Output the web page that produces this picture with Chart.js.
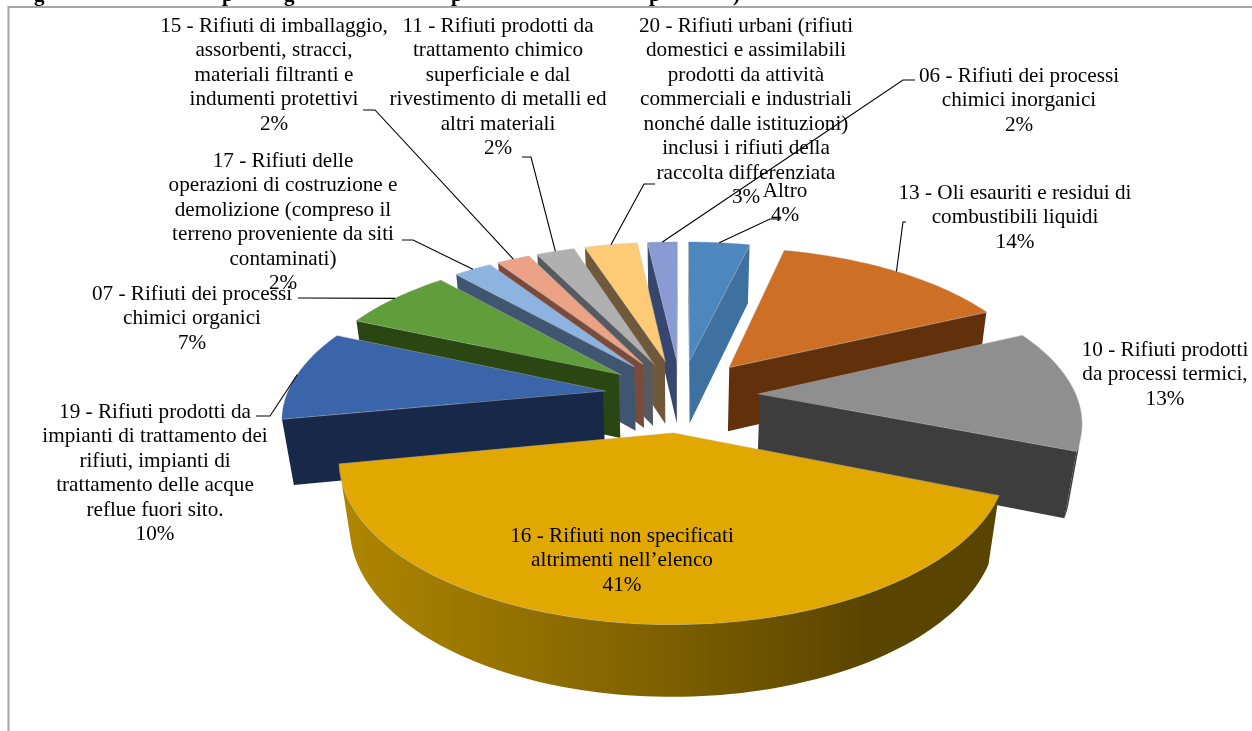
<!DOCTYPE html>
<html lang="it">
<head>
<meta charset="utf-8">
<title>Rifiuti</title>
<script src="https://cdn.jsdelivr.net/npm/chart.js@4"></script>
<style>
  html, body { margin: 0; padding: 0; background: #fff; }
  canvas { display: block; }
</style>
</head>
<body>
<canvas id="torta" width="1252" height="731"></canvas>
<script>
// dati
const categorie = ['Altro', '13', '10', '16', '19', '07', '17', '15', '11', '20', '06'];
const valori = [3.7, 14.3, 13, 41, 9.6, 6.8, 2.3, 2.0, 2.3, 3.2, 1.8];

const testi = [
  ['Altro'],
  ['13 - Oli esauriti e residui di', 'combustibili liquidi'],
  ['10 - Rifiuti prodotti', 'da processi termici,'],
  ['16 - Rifiuti non specificati', 'altrimenti nell\u2019elenco'],
  ['19 - Rifiuti prodotti da', 'impianti di trattamento dei', 'rifiuti, impianti di', 'trattamento delle acque', 'reflue fuori sito.'],
  ['07 - Rifiuti dei processi', 'chimici organici'],
  ['17 - Rifiuti delle', 'operazioni di costruzione e', 'demolizione (compreso il', 'terreno proveniente da siti', 'contaminati)'],
  ['15 - Rifiuti di imballaggio,', 'assorbenti, stracci,', 'materiali filtranti e', 'indumenti protettivi'],
  ['11 - Rifiuti prodotti da', 'trattamento chimico', 'superficiale e dal', 'rivestimento di metalli ed', 'altri materiali'],
  ['20 - Rifiuti urbani (rifiuti', 'domestici e assimilabili', 'prodotti da attivit\u00e0', 'commerciali e industriali', 'nonch\u00e9 dalle istituzioni)', 'inclusi i rifiuti della', 'raccolta differenziata'],
  ['06 - Rifiuti dei processi', 'chimici inorganici']
];

const coloriTop = ['#4E86BE', '#CE6F26', '#8F8F8F', '#E0A800', '#3A65AB', '#5F9E3A', '#8DB4E0', '#EBA285', '#B0B0B0', '#FDCB75', '#8A9BD3'];
const coloriParete = ['#3E71A0', '#63300C', '#3D3D3D', '#7C5F00', '#172849', '#2A4713', '#3F5570', '#7A4A3C', '#555B60', '#70583A', '#37466F'];

// posizione etichette: centro x, y della prima riga
const posTesti = [
  [785, 191], [1015, 193], [1165, 350], [622, 536], [155, 412], [192, 294],
  [283, 161], [274, 26], [498, 26], [746, 26], [1019, 76]
];
// inizio linea guida: [x1, y1, x2, y2] poi va verso la fetta
const guide = [
  [781, 219, 770, 219], [906, 222, 903, 222], null, null, [256, 416, 270, 416], [298, 298, 300, 298],
  [402, 240, 413, 240], [363, 110, 375, 110], [522, 157, 531, 157], [655, 184, 644, 184], [915, 80, 903, 80]
];

// pezzi del titolo tagliato in alto (si vedono solo le parti basse)
const titoloPezzi = [['g', 34], ['p', 222], ['g', 284], ['p', 451], ['p', 649], [')', 733]];

// parametri della vista 3D
const CX = 681, CY = 395, A = 316, B = 147, K = 0.16, D = 67, M = 0.03, ESPLOSO = 0.25;
const RIGA = 24.5;

function proj(u, v, z) {
  const w = 1 - K * v + M * z;
  return { x: CX + A * u / w, y: CY + (B * v + D * z) / w };
}

// punti del bordo di una fetta nel piano della torta, presi dall'arco di Chart.js
function bordoFetta(arco) {
  const mid = (arco.startAngle + arco.endAngle) / 2;
  const ex = Math.cos(mid) * ESPLOSO, ey = Math.sin(mid) * ESPLOSO;
  const punti = [[ex, ey]];
  const passi = Math.max(6, Math.ceil((arco.endAngle - arco.startAngle) * 40));
  for (let i = 0; i <= passi; i++) {
    const a = arco.startAngle + (arco.endAngle - arco.startAngle) * i / passi;
    punti.push([ex + Math.cos(a), ey + Math.sin(a)]);
  }
  return punti;
}

function puntoGuida(arco) {
  const mid = (arco.startAngle + arco.endAngle) / 2;
  return proj(Math.cos(mid) * (1 + ESPLOSO), Math.sin(mid) * (1 + ESPLOSO), 0);
}

function areaSegno(q) {
  let area = 0;
  q.forEach((p, j) => {
    const r = q[(j + 1) % q.length];
    area += p.x * r.y - r.x * p.y;
  });
  return area;
}

function tracciaPoli(ctx, q) {
  ctx.beginPath();
  q.forEach((p, j) => j ? ctx.lineTo(p.x, p.y) : ctx.moveTo(p.x, p.y));
  ctx.closePath();
}

function riempiPoli(ctx, q, colore) {
  tracciaPoli(ctx, q);
  ctx.fillStyle = colore;
  ctx.fill();
}

const torta3d = {
  id: 'torta3d',
  beforeDatasetsDraw(chart) {
    const ctx = chart.ctx;
    const archi = chart.getDatasetMeta(0).data;
    // dal fondo verso chi guarda
    const ordine = archi.map((a, i) => i).sort((p, q) => {
      const mp = (archi[p].startAngle + archi[p].endAngle) / 2;
      const mq = (archi[q].startAngle + archi[q].endAngle) / 2;
      return Math.sin(mp) - Math.sin(mq);
    });
    ordine.forEach(i => {
      const punti = bordoFetta(archi[i]);
      const su = punti.map(p => proj(p[0], p[1], 0));
      const giu = punti.map(p => proj(p[0], p[1], 1));
      const ultimo = su.length - 1;

      // pareti dei tagli
      [[0, 1], [ultimo, 0]].forEach(([a, b]) => {
        const q = [su[a], su[b], giu[b], giu[a]];
        if (areaSegno(q) < 0) riempiPoli(ctx, q, coloriParete[i]);
      });

      // parete esterna: un solo poligono per evitare righe fra i pezzi
      const fronte = [];
      for (let k = 1; k < ultimo; k++) {
        if (areaSegno([su[k], su[k + 1], giu[k + 1], giu[k]]) < 0) fronte.push(k, k + 1);
      }
      if (fronte.length) {
        const da = Math.min(...fronte), a = Math.max(...fronte);
        const poli = su.slice(da, a + 1).concat(giu.slice(da, a + 1).reverse());
        let riempi = coloriParete[i];
        if (categorie[i] === '16') {
          const g = ctx.createLinearGradient(su[ultimo].x, 0, su[1].x, 0);
          g.addColorStop(0, '#B08600');
          g.addColorStop(0.5, '#7C5F00');
          g.addColorStop(0.8, '#5A4500');
          g.addColorStop(1, '#5A4500');
          riempi = g;
        }
        riempiPoli(ctx, poli, riempi);
      }

      // bordino chiaro sotto la faccia superiore, come nell'originale
      tracciaPoli(ctx, su);
      ctx.strokeStyle = 'rgba(190,190,190,0.6)';
      ctx.lineWidth = 1.2;
      ctx.stroke();
      riempiPoli(ctx, su, coloriTop[i]);
    });
    return false;
  },
  afterDraw(chart) {
    const ctx = chart.ctx;
    const archi = chart.getDatasetMeta(0).data;
    const totale = valori.reduce((s, v) => s + v, 0);

    // linee guida
    ctx.strokeStyle = '#000';
    ctx.lineWidth = 1.1;
    guide.forEach((g, i) => {
      if (!g) return;
      const fine = puntoGuida(archi[i]);
      ctx.beginPath();
      ctx.moveTo(g[0], g[1]);
      ctx.lineTo(g[2], g[3]);
      ctx.lineTo(fine.x, fine.y);
      ctx.stroke();
    });

    // etichette
    ctx.fillStyle = '#000';
    ctx.font = '21.2px "Liberation Serif"';
    ctx.textAlign = 'center';
    ctx.textBaseline = 'middle';
    testi.forEach((righe, i) => {
      const [x, y] = posTesti[i];
      const tutte = righe.concat(Math.round(valori[i] / totale * 100) + '%');
      tutte.forEach((r, j) => ctx.fillText(r, x, y + j * RIGA));
    });

    // titolo: tagliato dal bordo della pagina
    ctx.font = 'bold 21px "Liberation Serif"';
    ctx.textAlign = 'left';
    ctx.textBaseline = 'alphabetic';
    titoloPezzi.forEach(([t, x]) => ctx.fillText(t, x, 1));

    // cornice
    ctx.strokeStyle = '#A6A6A6';
    ctx.lineWidth = 2;
    ctx.beginPath();
    ctx.moveTo(8.5, 731);
    ctx.lineTo(8.5, 7);
    ctx.lineTo(1252, 7);
    ctx.stroke();
  }
};

new Chart(document.getElementById('torta'), {
  type: 'pie',
  data: {
    labels: categorie,
    datasets: [{ data: valori, backgroundColor: coloriTop, borderWidth: 0 }]
  },
  options: {
    responsive: false,
    animation: false,
    events: [],
    plugins: { legend: { display: false }, tooltip: { enabled: false } }
  },
  plugins: [torta3d]
});
</script>
</body>
</html>
